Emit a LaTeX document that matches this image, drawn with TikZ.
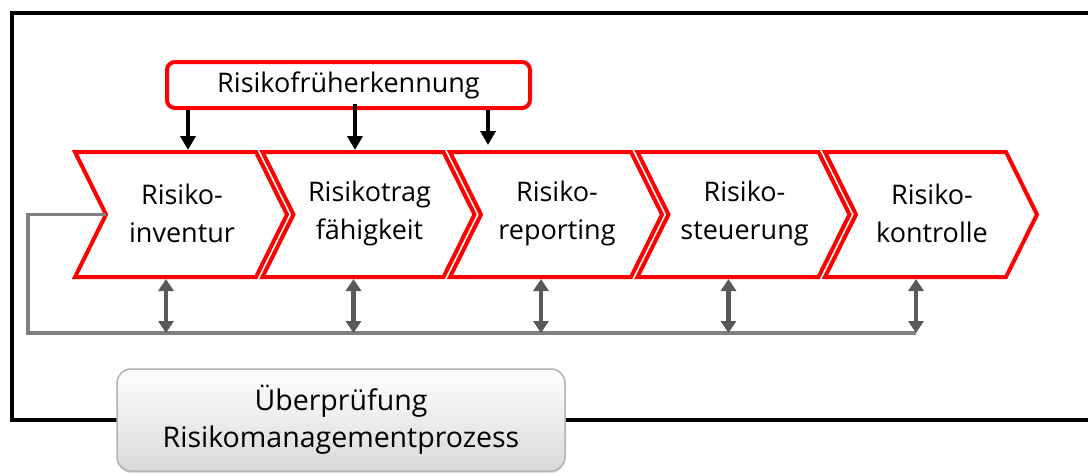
\documentclass[tikz,border=0pt]{standalone}
\usepackage{fontspec}
\setmainfont{Open Sans}
\usetikzlibrary{arrows.meta,shadows}
\definecolor{rred}{RGB}{255,0,0}
\definecolor{lgrey}{RGB}{128,128,128}
\definecolor{dgrey}{RGB}{89,89,89}
\newcommand\mychev[3]{%
  \draw[chevbox] (#2,-152) -- (#2+181,-152) -- (#2+212,-214.5) -- (#2+181,-277) -- (#2,-277) -- (#2+31,-214.5) -- cycle;
  \node[chevtext] (#1) at (#2+107,-213) {#3};
  \coordinate (#1t) at (#2+91,-150);
  \coordinate (#1b) at (#2+91,-279);
  \coordinate (#1line) at (#2+91,-333);
}
\tikzset{
  chevbox/.style={draw=rred, line width=4pt, fill=white, line join=miter},
  chevtext/.style={align=center, inner sep=0pt, font=\fontsize{27}{38}\selectfont},
  blackarrow/.style={line width=4pt, -{Triangle[width=15pt,length=14pt]}},
  dblarrow/.style={draw=dgrey, line width=4.5pt, {Triangle[width=15pt,length=12pt]}-{Triangle[width=15pt,length=12pt]}},
  greyline/.style={draw=lgrey, line width=3.5pt},
}
\begin{document}
\begin{tikzpicture}[x=1pt,y=1pt]
\useasboundingbox (0,0) rectangle (1088,-475);
\fill[white] (0,0) rectangle (1088,-475);
% frame
\draw[line width=4pt] (1092,-13) -- (12,-13) -- (12,-420) -- (1092,-420);
% chevrons
\mychev{c1}{75}{Risiko-\\inventur}
\mychev{c2}{262.5}{Risikotrag\\fähigkeit}
\mychev{c3}{450}{Risiko-\\reporting}
\mychev{c4}{637.5}{Risiko-\\steuerung}
\mychev{c5}{825}{Risiko-\\kontrolle}
% early detection box
\node[draw=rred, line width=4pt, rounded corners=8pt, fill=white, minimum width=363pt, minimum height=46pt,
      font=\fontsize{27}{32}\selectfont, inner sep=0pt] (rf) at (348.5,-85) {Risikofrüherkennung};
\coordinate (a1) at (188,-110);
\coordinate (a2) at (355,-104);
\coordinate (a3) at (488,-110);
\coordinate (a3e) at (488,-145);
\draw[blackarrow] (a1) -- (a1 |- c1t);
\draw[blackarrow] (a2) -- (a2 |- c2t);
\draw[blackarrow] (a3) -- (a3e);
% feedback loop
\coordinate (notch) at (106,-214.5);
\coordinate (lc1) at (28,-214.5);
\coordinate (lc2) at (28,-333);
\draw[greyline, line join=miter] (notch) -- (lc1) -- (lc2) -- (c5line);
\foreach \c in {c1,c2,c3,c4,c5}{
  \draw[dblarrow] (\c b) -- (\c line);
}
% review box
\node[draw=black!30, line width=1.5pt, rounded corners=14pt, top color=white, bottom color=black!15,
      minimum width=448pt, minimum height=102pt, align=center, inner sep=0pt,
      drop shadow={shadow xshift=0pt, shadow yshift=-2pt, opacity=0.25},
      font=\fontsize{28.5}{37}\selectfont] (rev) at (341,-420) {Überprüfung\\Risikomanagementprozess};
\end{tikzpicture}
\end{document}
